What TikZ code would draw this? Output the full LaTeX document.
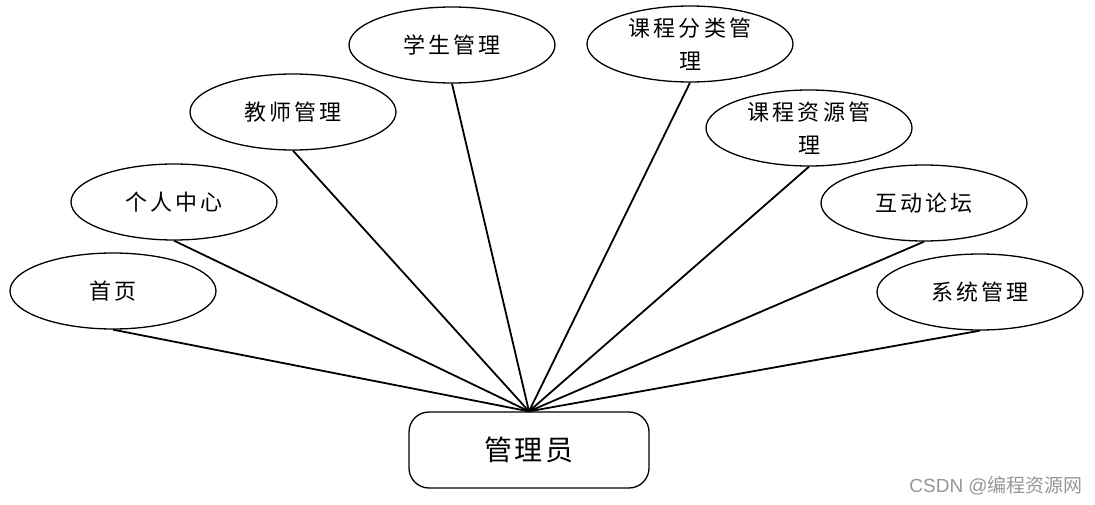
\documentclass[tikz,border=0pt]{standalone}
\usepackage{fontspec}
\setmainfont{Noto Sans CJK SC}
\newfontfamily\cjk[LetterSpace=15]{Noto Sans CJK SC}
\newfontfamily\cjkbig[LetterSpace=8]{Noto Sans CJK SC}
\newfontfamily\wmfont{Noto Sans CJK SC}
\newfontfamily\latinwm{Liberation Sans}
\usetikzlibrary{shapes.geometric}
\definecolor{wmgray}{RGB}{150,150,150}
\begin{document}
\begin{tikzpicture}[x=1pt,y=-1pt,
  oval/.style={draw=black,line width=1.3pt,ellipse,minimum width=206pt,minimum height=76pt,inner sep=0pt,align=center,font=\cjk\fontsize{22}{33}\selectfont},
  hubbox/.style={draw=black,line width=1.3pt,rounded corners=20pt,minimum width=240pt,minimum height=76pt,inner sep=0pt,font=\cjkbig\fontsize{28}{30}\selectfont},
  link/.style={line width=1.8pt,black}]
\useasboundingbox (0,0) rectangle (1095,505);
\node[hubbox] (admin) at (529,450) {管理员};
\node[oval] (home) at (113,291) {首页};
\node[oval] (center) at (174,202) {个人中心};
\node[oval] (teacher) at (293,112) {教师管理};
\node[oval] (student) at (452,45) {学生管理};
\node[oval] (cat) at (690,44) {课程分类管\\理};
\node[oval] (res) at (809,128) {课程资源管\\理};
\node[oval] (forum) at (924,203) {互动论坛};
\node[oval] (sys) at (980,292) {系统管理};
\foreach \n in {home,center,teacher,student,cat,res,forum,sys}
  \draw[link] (\n.south) -- (admin.north);
\node[text=wmgray,font=\fontsize{19}{22}\selectfont,anchor=east,inner sep=0pt] (wm) at (1083,486) {\latinwm CSDN @\wmfont 编程资源网};
\end{tikzpicture}
\end{document}
